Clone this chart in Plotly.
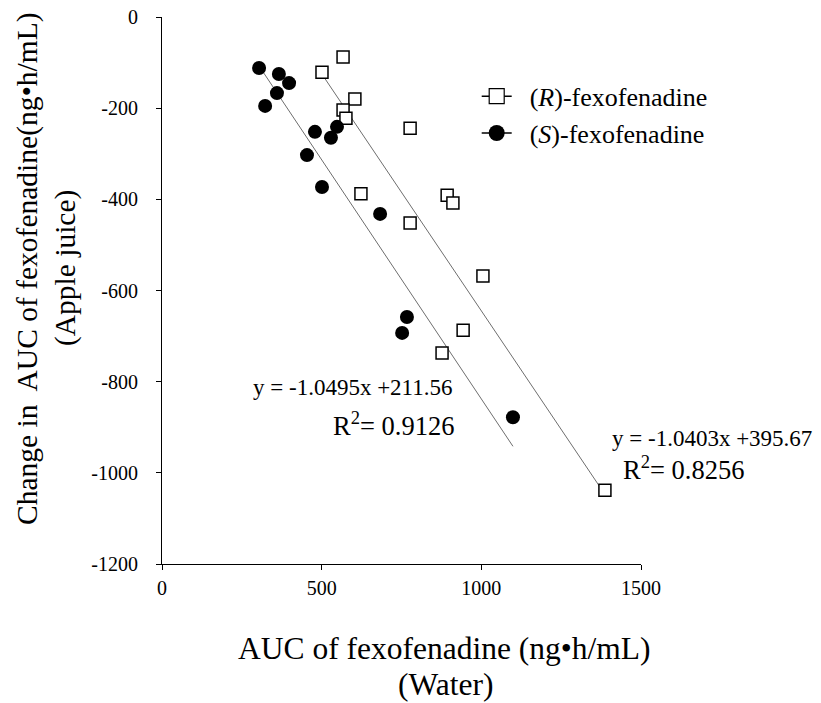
import numpy as np
import plotly.graph_objects as go

# (R)-fexofenadine
r_water = [501, 567, 604, 567, 576, 777, 623, 893, 911, 777, 1005, 943, 877, 1387]
r_change = [-121, -88, -180, -204, -222, -244, -388, -391, -408, -452, -568, -687, -737, -1038]
# (S)-fexofenadine
s_water = [304, 366, 398, 360, 323, 479, 548, 529, 454, 501, 683, 767, 752, 1099]
s_change = [-112, -125, -145, -167, -195, -252, -241, -265, -303, -373, -432, -658, -693, -878]

r_slope, r_intercept, r_r2 = -1.0403, 395.67, 0.8256
s_slope, s_intercept, s_r2 = -1.0495, 211.56, 0.9126

x_tickvals = [0, 500, 1000, 1500]
x_ticktext = ["0", "500", "1000", "1500"]
y_tickvals = [0, -200, -400, -600, -800, -1000, -1200]
y_ticktext = ["0", "-200", "-400", "-600", "-800", "-1000", "-1200"]

FONT = "Liberation Serif, Times New Roman, serif"
LINE_GREY = "#6e6e6e"
NB = "\u00a0\u00a0"

fig = go.Figure()

# trendlines from the printed equations
rx = np.array([min(r_water), max(r_water)])
sx = np.array([min(s_water), max(s_water)])
fig.add_trace(go.Scatter(x=sx, y=s_slope * sx + s_intercept, mode="lines",
                         line=dict(color=LINE_GREY, width=1), showlegend=False, hoverinfo="skip"))
fig.add_trace(go.Scatter(x=rx, y=r_slope * rx + r_intercept, mode="lines",
                         line=dict(color=LINE_GREY, width=1), showlegend=False, hoverinfo="skip"))

fig.add_trace(go.Scatter(x=r_water, y=r_change, mode="markers", showlegend=False,
                         marker=dict(symbol="square", size=12, color="white",
                                     line=dict(color="black", width=1.5))))
fig.add_trace(go.Scatter(x=s_water, y=s_change, mode="markers", showlegend=False,
                         marker=dict(symbol="circle", size=14, color="black",
                                     line=dict(color="black", width=0))))

# legend entries
fig.add_trace(go.Scatter(x=[None], y=[None], mode="lines+markers", name=NB + "(<i>R</i>)-fexofenadine",
                         line=dict(color="black", width=1.5),
                         marker=dict(symbol="square", size=15, color="white",
                                     line=dict(color="black", width=1.2))))
fig.add_trace(go.Scatter(x=[None], y=[None], mode="lines+markers", name=NB + "(<i>S</i>)-fexofenadine",
                         line=dict(color="black", width=1.5),
                         marker=dict(symbol="circle", size=16, color="black")))

ann = []
ann.append(dict(x=598, y=-812, xref="x", yref="y", text="y = %.4fx +%.2f" % (s_slope, s_intercept),
                showarrow=False, font=dict(size=23), xanchor="center", yanchor="middle"))
ann.append(dict(x=920, y=-893, xref="x", yref="y", text="R<sup>2</sup>= %.4f" % s_r2,
                showarrow=False, font=dict(size=26.5), xanchor="right", yanchor="middle"))
ann.append(dict(x=1404, y=-924, xref="x", yref="y", text="y = %.4fx +%.2f" % (r_slope, r_intercept),
                showarrow=False, font=dict(size=23), xanchor="left", yanchor="middle"))
ann.append(dict(x=1436, y=-989, xref="x", yref="y", text="R<sup>2</sup>= %.4f" % r_r2,
                showarrow=False, font=dict(size=26.5), xanchor="left", yanchor="middle"))
# axis titles
ann.append(dict(x=0.589, y=-0.1536, xref="paper", yref="paper", text="AUC of fexofenadine (ng•h/mL)",
                showarrow=False, font=dict(size=31.5), xanchor="center", yanchor="middle"))
ann.append(dict(x=0.591, y=-0.2212, xref="paper", yref="paper", text="(Water)",
                showarrow=False, font=dict(size=31.5), xanchor="center", yanchor="middle"))
ann.append(dict(x=-0.282, y=0.541, xref="paper", yref="paper",
                text="Change in  AUC of fexofenadine(ng•h/mL)", textangle=-90,
                showarrow=False, font=dict(size=29.5), xanchor="center", yanchor="middle"))
ann.append(dict(x=-0.2025, y=0.541, xref="paper", yref="paper", text="(Apple juice)", textangle=-90,
                showarrow=False, font=dict(size=29.5), xanchor="center", yanchor="middle"))

# page body adds an 8px offset; margins compensate so the plot lands where the reference's does
fig.update_layout(
    width=821, height=703,
    margin=dict(l=154, r=188, t=9, b=147, autoexpand=False),
    paper_bgcolor="white", plot_bgcolor="white",
    font=dict(family=FONT, color="black"),
    annotations=ann,
    legend=dict(x=0.657, y=0.898, xanchor="left", yanchor="top", font=dict(size=26),
                bgcolor="rgba(0,0,0,0)", tracegroupgap=0, itemwidth=30),
)
fig.update_xaxes(range=[0, 1500], tickvals=x_tickvals, ticktext=x_ticktext, automargin=False,
                 showline=True, linecolor="black", linewidth=1, ticks="outside", ticklen=5,
                 tickcolor="black", showgrid=False, zeroline=False, tickfont=dict(size=20),
                 ticklabelstandoff=1, ticklabeloverflow="allow")
fig.update_yaxes(range=[-1200, 0], tickvals=y_tickvals, ticktext=y_ticktext, automargin=False,
                 showline=True, linecolor="black", linewidth=1, ticks="outside", ticklen=5,
                 tickcolor="black", showgrid=False, zeroline=False, tickfont=dict(size=20),
                 ticklabelstandoff=14, ticklabeloverflow="allow")

fig.write_html("out.html")
